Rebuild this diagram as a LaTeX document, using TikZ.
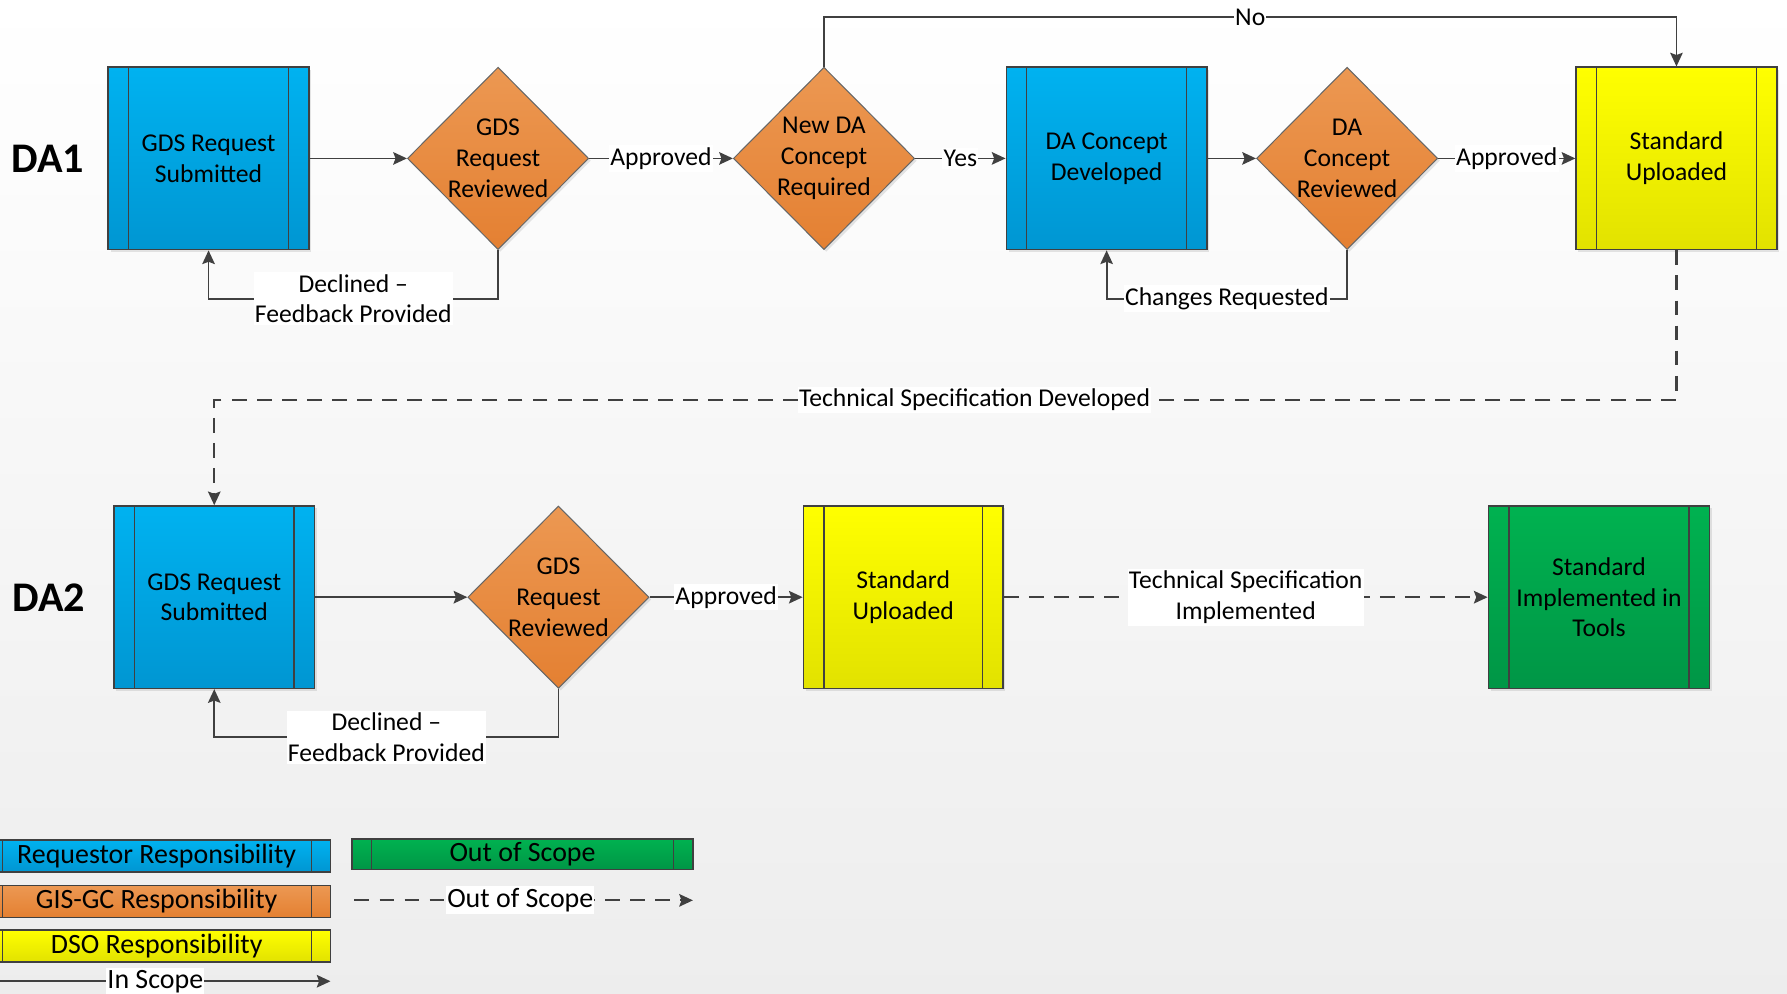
\documentclass[tikz,border=0pt]{standalone}
\usepackage{fontspec}
\setmainfont{Carlito}
\usetikzlibrary{shapes.geometric,arrows.meta,shadows}

\definecolor{reqtop}{RGB}{0,178,240}
\definecolor{reqbot}{RGB}{0,150,210}
\definecolor{gistop}{RGB}{236,152,82}
\definecolor{gisbot}{RGB}{228,128,50}
\definecolor{dsotop}{RGB}{255,255,0}
\definecolor{dsobot}{RGB}{226,226,0}
\definecolor{outtop}{RGB}{0,178,80}
\definecolor{outbot}{RGB}{0,150,70}
\definecolor{edgecol}{RGB}{64,64,64}
\definecolor{linecol}{RGB}{64,64,64}

\tikzset{
  strips/.style={path picture={
      \draw[edgecol,line width=1pt]
        ([xshift=#1]path picture bounding box.north west) -- ([xshift=#1]path picture bounding box.south west)
        ([xshift=-#1]path picture bounding box.north east) -- ([xshift=-#1]path picture bounding box.south east);}},
  softshadow/.style={drop shadow={shadow xshift=2pt,shadow yshift=-2pt,opacity=0.2}},
  proc/.style={rectangle, draw=edgecol, line width=1.4pt, minimum width=176, minimum height=160,
    inner sep=0pt, align=center, softshadow, strips=18pt},
  req/.style={proc, top color=reqtop, bottom color=reqbot},
  dso/.style={proc, top color=dsotop, bottom color=dsobot},
  outp/.style={proc, top color=outtop, bottom color=outbot},
  dec/.style={diamond, draw=edgecol!80, line width=0.9pt, minimum width=159, minimum height=160,
    inner sep=-4pt, align=center, top color=gistop, bottom color=gisbot, softshadow},
  lane/.style={font=\fontsize{37}{40}\bfseries\selectfont},
  lbl/.style={fill=white, inner xsep=1pt, inner ysep=2pt, align=center},
  flow/.style={draw=linecol, line width=1.6pt, -{Stealth[length=12pt,width=11pt,inset=2pt]}},
  dflow/.style={flow, line width=1.9pt, dash pattern=on 13pt off 9pt},
  legbar/.style={rectangle, draw=edgecol, line width=1.4pt, minimum height=28, inner sep=0pt,
    font=\fontsize{24.5}{28}\selectfont, strips=17pt},
  leglbl/.style={lbl, font=\fontsize{24.5}{28}\selectfont}
}

\begin{document}
\begin{tikzpicture}[x=1pt, y=-1pt, font=\fontsize{22.5}{27}\selectfont]
  % Background
  \useasboundingbox (0,0) rectangle (1568,872);
  \shade[top color=white, bottom color=black!7] (0,0) rectangle (1568,872);

  % DA1 row
  \node[lane] (da1) at (42,139) {DA1};
  \node[req] (req1) at (183,139) {GDS Request\\Submitted};
  \node[dec] (rev1) at (437,139) {GDS\\Request\\Reviewed};
  \node[dec] (need) at (723,139) {New DA\\Concept\\Required};
  \node[req] (concept) at (971,139) {DA Concept\\Developed};
  \node[dec] (crev) at (1182,139) {DA\\Concept\\Reviewed};
  \node[dso] (upl1) at (1471,139) {Standard\\Uploaded};

  % DA2 row
  \node[lane] (da2) at (43,524) {DA2};
  \node[req] (req2) at (188,524) {GDS Request\\Submitted};
  \node[dec] (rev2) at (490,524) {GDS\\Request\\Reviewed};
  \node[dso, minimum width=175] (upl2) at (792.5,524) {Standard\\Uploaded};
  \node[outp, minimum width=194] (tools) at (1403,524) {Standard\\Implemented in\\Tools};

  % Bends of the loops
  \coordinate (ntop) at (0,15);
  \coordinate (dl1) at (0,262);
  \coordinate (cr) at (0,262);
  \coordinate (ts) at (0,351);
  \coordinate (dl2) at (0,647);

  % DA1 connectors
  \draw[flow] (req1) -- (rev1);
  \draw[flow] (rev1) -- node[lbl] {Approved} (need);
  \draw[flow] (need) -- node[lbl] {Yes} (concept);
  \draw[flow] (concept) -- (crev);
  \draw[flow] (crev) -- node[lbl] {Approved} (upl1);
  \draw[flow] (need.north) -- (need.north |- ntop) -| node[lbl, pos=0.25] {No} (upl1.north);
  \draw[flow] (rev1.south) -- (rev1.south |- dl1) -| node[lbl, pos=0.25] {Declined --\\Feedback Provided} (req1.south);
  \draw[flow] (crev.south) -- (crev.south |- cr) -| node[lbl, pos=0.25] {Changes Requested} (concept.south);

  % From DA1 to DA2
  \draw[dflow] (upl1.south) -- (upl1.south |- ts) -| node[lbl, pos=0.24] {Technical Specification Developed} (req2.north);

  % DA2 connectors
  \draw[flow] (req2) -- (rev2);
  \draw[flow] (rev2) -- node[lbl] {Approved} (upl2);
  \draw[dflow] (upl2) -- node[lbl] {Technical Specification\\Implemented} (tools);
  \draw[flow] (rev2.south) -- (rev2.south |- dl2) -| node[lbl, pos=0.25] {Declined --\\Feedback Provided} (req2.south);

  % Legend
  \node[legbar, minimum width=305, top color=reqtop, bottom color=reqbot] (lgreq) at (137.5,751) {Requestor Responsibility};
  \node[legbar, minimum width=305, top color=gistop, bottom color=gisbot] (lggis) at (137.5,791) {GIS-GC Responsibility};
  \node[legbar, minimum width=305, top color=dsotop, bottom color=dsobot] (lgdso) at (137.5,830) {DSO Responsibility};
  \node[legbar, minimum width=299, minimum height=27, top color=outtop, bottom color=outbot] (lgout) at (458.5,749.5) {Out of Scope};
  \coordinate (is0) at (0,861);
  \coordinate (is1) at (290,861);
  \coordinate (os0) at (311,790);
  \coordinate (os1) at (608,790);
  \draw[flow] (is0) -- node[leglbl, pos=0.47] {In Scope} (is1);
  \draw[dflow] (os0) -- node[leglbl, pos=0.49] {Out of Scope} (os1);
\end{tikzpicture}
\end{document}
